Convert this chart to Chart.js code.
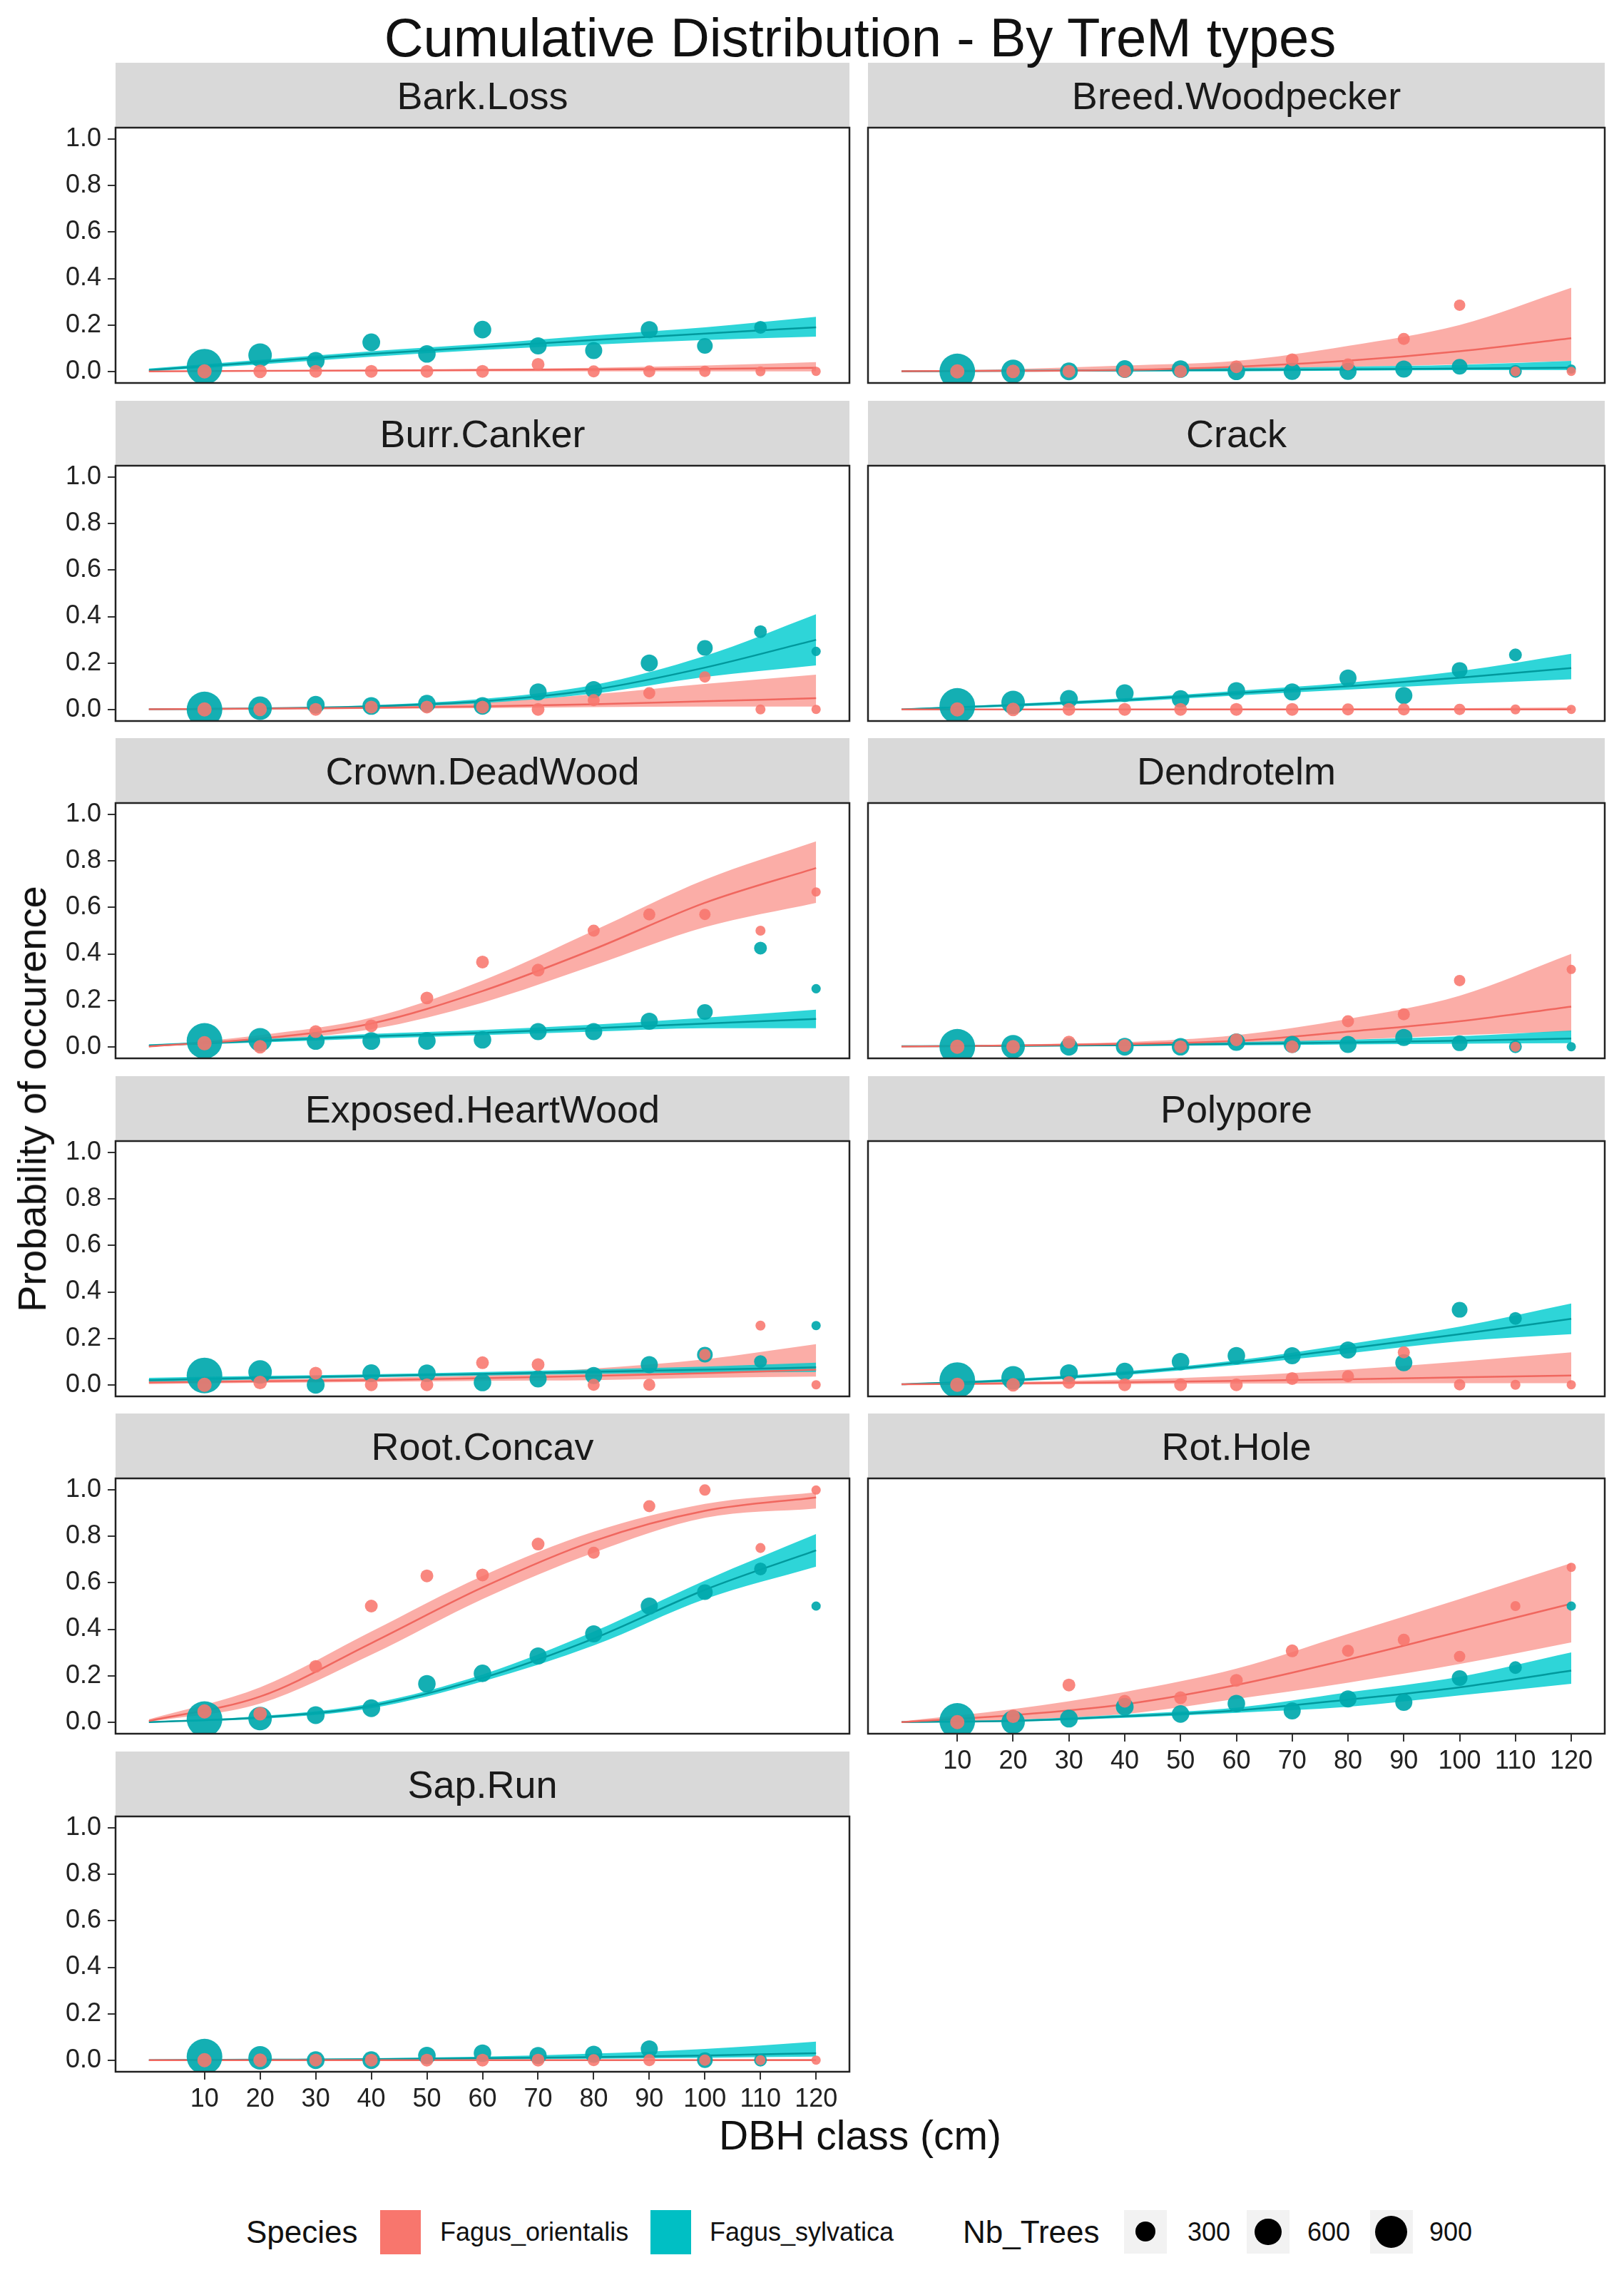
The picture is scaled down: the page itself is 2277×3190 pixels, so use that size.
<!DOCTYPE html>
<html><head><meta charset="utf-8">
<script src="https://cdn.jsdelivr.net/npm/chart.js@4.4.1/dist/chart.umd.min.js"></script>
<style>
html,body{margin:0;padding:0;background:#fff;}
#root{position:relative;width:2277px;height:3190px;overflow:hidden;font-family:"Liberation Sans",Arial,sans-serif;color:#111;}
.abs{position:absolute;white-space:nowrap;}
.strip{position:absolute;background:#d9d9d9;color:#1a1a1a;font-size:54px;display:flex;align-items:center;justify-content:center;}
.ctr{transform:translate(-50%,-50%);line-height:1;}
.vc{transform:translateY(-50%);line-height:1;}
canvas{position:absolute;}
</style>
</head><body><div id="root"></div>
<script>
// ---------------- DATA ----------------
const chartTitle = 'Cumulative Distribution - By TreM types';
const xTitle = 'DBH class (cm)';
const yTitle = 'Probability of occurence';
const speciesNames = ['Fagus_orientalis', 'Fagus_sylvatica'];
const tremTypes = ['Bark.Loss','Breed.Woodpecker','Burr.Canker','Crack','Crown.DeadWood','Dendrotelm',
                   'Exposed.HeartWood','Polypore','Root.Concav','Rot.Hole','Sap.Run'];
const dbhClasses = [10,20,30,40,50,60,70,80,90,100,110,120];
const yTickValues = [0,0.2,0.4,0.6,0.8,1.0];
const sizeLegendValues = [300,600,900];

// number of trees per DBH class (point size)
const nbTreesOrientalis = [114,95,77,77,77,77,77,60,60,44,16,3];
const nbTreesSylvatica  = [1130,447,223,220,213,213,199,199,199,155,77,3];

// observed proportions, one row per TreM type (order of tremTypes); null = not visible
const obsOrientalis = [
  [0,0,0,0,0,0,0.03,0,0,0,0,0],
  [0,0,0,0,0,0.02,0.05,0.03,0.14,0.285,0,0],
  [0,0,0,0.01,0.01,0.01,0,0.04,0.07,0.14,0,0],
  [0,0,0,0,0,0,0,0,0,0,0,0],
  [0.015,0,0.065,0.09,0.21,0.365,0.33,0.5,0.57,0.57,0.5,0.667],
  [0,0,0.02,0.005,0,0.03,0,0.11,0.14,0.285,0,0.333],
  [0,0.01,0.05,0,0,0.095,0.087,0,0,0.13,0.255,0],
  [0,0,0.01,0,0,0,0.027,0.037,0.14,0,0,0],
  [0.046,0.036,0.24,0.5,0.63,0.634,0.767,0.73,0.93,1.0,0.75,1.0],
  [0,0.025,0.16,0.09,0.105,0.18,0.307,0.307,0.355,0.283,0.5,0.667],
  [0,0,0,0,0,0,0,0,0,0,0,0]
];
const obsSylvatica = [
  [0.02,0.07,0.045,0.125,0.075,0.18,0.11,0.09,0.18,0.11,0.19,null],
  [0,0,0,0.01,0.01,0,0,0,0.01,0.02,0,0.01],
  [0,0.005,0.02,0.015,0.025,0.015,0.075,0.085,0.2,0.265,0.335,0.25],
  [0.015,0.03,0.045,0.07,0.045,0.08,0.075,0.135,0.06,0.17,0.235,null],
  [0.025,0.03,0.025,0.025,0.025,0.03,0.065,0.065,0.11,0.15,0.425,0.25],
  [0,0,0,0,0,0.02,0.01,0.01,0.04,0.015,0,0],
  [0.04,0.055,0,0.05,0.05,0.01,0.025,0.04,0.087,0.13,0.1,0.255],
  [0.02,0.03,0.05,0.057,0.1,0.125,0.125,0.15,0.095,0.323,0.286,null],
  [0.013,0.015,0.03,0.06,0.165,0.21,0.285,0.38,0.5,0.56,0.66,0.5],
  [0.005,0,0.015,0.066,0.035,0.08,0.048,0.1,0.085,0.19,0.235,0.5],
  [0.015,0.01,0,0,0.02,0.03,0.02,0.025,0.048,0,0,null]
];

// fitted curves (read at DBH 0,20,...,120): fit, lower and upper band
const fitX = [0,20,40,60,80,100,120];
const fitOrientalis = [
  [0,0.002,0.004,0.006,0.008,0.011,0.015],
  [0.001,0.002,0.006,0.02,0.046,0.087,0.143],
  [0.001,0.003,0.007,0.013,0.022,0.035,0.048],
  [0,0,0,0,0,0,0],
  [0.001,0.035,0.1,0.24,0.42,0.62,0.77],
  [0.001,0.005,0.012,0.025,0.065,0.11,0.173],
  [0.01,0.015,0.02,0.028,0.038,0.05,0.065],
  [0.002,0.006,0.011,0.017,0.024,0.032,0.04],
  [0.005,0.11,0.34,0.58,0.78,0.91,0.968],
  [0,0.03,0.077,0.16,0.27,0.39,0.51],
  [0,0,0,0,0,0,0]
];
const loOrientalis = [
  [0,0,0,0,0,0,0],
  [0,0,0.001,0.008,0.02,0.03,0.045],
  [0,0,0.002,0.005,0.01,0.012,0.012],
  [0,0,0,0,0,0,0],
  [0,0.025,0.075,0.19,0.35,0.515,0.62],
  [0,0.001,0.004,0.01,0.03,0.05,0.065],
  [0.003,0.008,0.012,0.017,0.02,0.03,0.035],
  [0,0.001,0.003,0.005,0.006,0.007,0.007],
  [0.001,0.08,0.29,0.53,0.73,0.88,0.92],
  [0,0.01,0.035,0.1,0.17,0.25,0.343],
  [0,0,0,0,0,0,0]
];
const hiOrientalis = [
  [0.002,0.004,0.006,0.01,0.015,0.025,0.04],
  [0.003,0.01,0.025,0.045,0.11,0.2,0.36],
  [0.003,0.008,0.015,0.03,0.065,0.11,0.15],
  [0.002,0.002,0.002,0.003,0.004,0.005,0.008],
  [0.003,0.05,0.125,0.285,0.5,0.72,0.885],
  [0.003,0.01,0.02,0.05,0.12,0.22,0.4],
  [0.02,0.024,0.03,0.042,0.07,0.11,0.175],
  [0.005,0.012,0.022,0.038,0.065,0.1,0.14],
  [0.012,0.15,0.39,0.63,0.82,0.94,0.99],
  [0.003,0.056,0.13,0.23,0.38,0.53,0.685],
  [0.002,0.002,0.002,0.003,0.003,0.004,0.005]
];
const fitSylvatica = [
  [0.005,0.04,0.075,0.105,0.135,0.163,0.19],
  [0,0.002,0.004,0.006,0.009,0.012,0.016],
  [0.001,0.004,0.013,0.035,0.085,0.18,0.3],
  [0,0.018,0.04,0.07,0.1,0.137,0.178],
  [0.005,0.025,0.045,0.06,0.08,0.1,0.12],
  [0.002,0.004,0.007,0.012,0.018,0.026,0.035],
  [0.02,0.03,0.038,0.047,0.056,0.065,0.075],
  [0.002,0.02,0.05,0.095,0.156,0.218,0.284],
  [0,0.02,0.07,0.19,0.36,0.57,0.74],
  [0,0.005,0.025,0.05,0.097,0.15,0.222],
  [0,0.002,0.004,0.008,0.013,0.02,0.03]
];
const loSylvatica = [
  [0,0.03,0.063,0.092,0.115,0.135,0.15],
  [0,0,0,0,0.003,0.005,0.005],
  [0,0.002,0.009,0.027,0.068,0.14,0.19],
  [0,0.012,0.033,0.06,0.085,0.11,0.13],
  [0.002,0.018,0.035,0.05,0.065,0.08,0.08],
  [0,0.001,0.003,0.006,0.01,0.013,0.015],
  [0.012,0.023,0.032,0.04,0.047,0.052,0.055],
  [0,0.014,0.042,0.085,0.135,0.187,0.218],
  [0,0.014,0.06,0.175,0.33,0.53,0.67],
  [0,0.002,0.018,0.04,0.066,0.115,0.165],
  [0,0,0.001,0.003,0.006,0.01,0.015]
];
const hiSylvatica = [
  [0.012,0.05,0.087,0.118,0.155,0.19,0.235],
  [0.004,0.006,0.01,0.015,0.02,0.028,0.045],
  [0.002,0.006,0.018,0.045,0.105,0.23,0.41],
  [0.003,0.024,0.048,0.08,0.115,0.165,0.24],
  [0.01,0.032,0.055,0.072,0.095,0.125,0.16],
  [0.005,0.008,0.012,0.02,0.03,0.045,0.07],
  [0.03,0.038,0.045,0.055,0.066,0.078,0.095],
  [0.004,0.026,0.058,0.105,0.175,0.25,0.35],
  [0.002,0.026,0.08,0.205,0.39,0.61,0.81],
  [0.003,0.01,0.033,0.062,0.128,0.195,0.3],
  [0.002,0.004,0.008,0.015,0.028,0.048,0.08]
];

// ---------------- STYLE / LAYOUT ----------------
const RED = '#F8766D', TEAL = '#00BFC4';
const RED_PT = 'rgba(248,118,109,0.88)', TEAL_PT = 'rgba(0,168,172,0.92)';
const RED_BAND = 'rgba(248,118,109,0.6)', TEAL_BAND = 'rgba(0,204,207,0.82)';
const RED_LINE = '#F0675F', TEAL_LINE = '#00999D';
const colLeft = [162, 1217], colRight = [1191, 2250];
const plotTop0 = 179, rowPitch = 473.5, plotH = 358, stripH = 91;
const FONT = '"Liberation Sans", Arial, sans-serif';
const Y_AXIS_W = 130, X_AXIS_H = 80, PAD = 6;

function treeRadius(n){ return Math.sqrt(41 + 0.517*n); }

Chart.defaults.font.family = FONT;
const root = document.getElementById('root');

function addText(txt, x, y, size, cls, extra){
  const d = document.createElement('div');
  d.className = 'abs ' + cls;
  d.style.left = x + 'px'; d.style.top = y + 'px';
  d.style.fontSize = size + 'px';
  if (extra) Object.assign(d.style, extra);
  d.textContent = txt;
  root.appendChild(d);
  return d;
}

const borderPlugin = {
  id: 'panelBorder',
  afterDraw(chart){
    const a = chart.chartArea, c = chart.ctx;
    c.save(); c.strokeStyle = '#222'; c.lineWidth = 2.5;
    c.strokeRect(a.left, a.top, a.right - a.left, a.bottom - a.top);
    c.restore();
  }
};

function pts(vals){ return dbhClasses.map((x,i)=>({x:x, y:vals[i]})); }
function crv(vals){ return fitX.map((x,i)=>({x:x, y:vals[i]})); }
function fixSize(prop, size){
  return s => { s[prop] = size; s.paddingTop = 0; s.paddingBottom = 0; s.paddingLeft = 0; s.paddingRight = 0; };
}

tremTypes.forEach((name, i) => {
  const col = i % 2, row = Math.floor(i / 2);
  const L = colLeft[col], R = colRight[col];
  const top = Math.round(plotTop0 + row * rowPitch);
  const showY = col === 0;
  const showX = (name === 'Rot.Hole' || name === 'Sap.Run');
  const padL = showY ? Y_AXIS_W : PAD, padB = showX ? X_AXIS_H : PAD;

  const strip = document.createElement('div');
  strip.className = 'strip';
  Object.assign(strip.style, {left: L+'px', top: (top - stripH)+'px', width: (R-L)+'px', height: stripH+'px'});
  strip.textContent = name;
  root.appendChild(strip);

  const cv = document.createElement('canvas');
  const W = (R - L) + padL + PAD, H = plotH + PAD + padB;
  cv.width = W; cv.height = H;
  cv.style.left = (L - padL) + 'px'; cv.style.top = (top - PAD) + 'px';
  cv.style.width = W + 'px'; cv.style.height = H + 'px';
  root.appendChild(cv);

  const lineDs = (data, color, order) => ({
    type:'scatter', data, showLine:true, borderColor:color, borderWidth:2.5,
    pointRadius:0, fill:false, cubicInterpolationMode:'monotone', order, clip:0
  });
  const bandHi = (data, color, order) => ({
    type:'scatter', data, showLine:true, borderWidth:0, borderColor:'rgba(0,0,0,0)',
    backgroundColor:color, pointRadius:0, fill:'+1', cubicInterpolationMode:'monotone', order, clip:0
  });
  const bandLo = (data, order) => ({
    type:'scatter', data, showLine:true, borderWidth:0, borderColor:'rgba(0,0,0,0)',
    pointRadius:0, fill:false, cubicInterpolationMode:'monotone', order, clip:0
  });

  const xScale = { type:'linear', min:-6, max:126, display: showX,
    afterBuildTicks: s => { s.ticks = dbhClasses.map(v=>({value:v})); },
    grid:{ display:true, drawOnChartArea:false, drawTicks:true, tickLength:11, color:'#333', lineWidth:2 },
    border:{ display:false },
    ticks:{ font:{size:36}, color:'#222', padding:6, maxRotation:0, minRotation:0, autoSkip:false,
            callback: v => String(v) } };
  if (showX) xScale.afterFit = fixSize('height', X_AXIS_H);
  const yScale = { type:'linear', min:-0.05, max:1.05, display: showY,
    afterBuildTicks: s => { s.ticks = yTickValues.map(v=>({value:v})); },
    grid:{ display:true, drawOnChartArea:false, drawTicks:true, tickLength:11, color:'#333', lineWidth:2 },
    border:{ display:false },
    ticks:{ font:{size:36}, color:'#222', padding:9, autoSkip:false,
            callback: v => Number(v).toFixed(1) } };
  if (showY) yScale.afterFit = fixSize('width', Y_AXIS_W);

  new Chart(cv, {
    type: 'scatter',
    data: { datasets: [
      { data: pts(obsOrientalis[i]), backgroundColor: RED_PT, borderWidth:0,
        pointRadius: nbTreesOrientalis.map(treeRadius), order:0, clip:0 },
      { data: pts(obsSylvatica[i]), backgroundColor: TEAL_PT, borderWidth:0,
        pointRadius: nbTreesSylvatica.map(treeRadius), order:1, clip:0 },
      lineDs(crv(fitOrientalis[i]), RED_LINE, 2),
      lineDs(crv(fitSylvatica[i]), TEAL_LINE, 3),
      bandHi(crv(hiOrientalis[i]), RED_BAND, 5),
      bandLo(crv(loOrientalis[i]), 5),
      bandHi(crv(hiSylvatica[i]), TEAL_BAND, 4),
      bandLo(crv(loSylvatica[i]), 4)
    ]},
    options: {
      responsive:false, animation:false, devicePixelRatio:1, events:[],
      layout:{ autoPadding:false, padding:{ left: showY?0:PAD, right:PAD, top:PAD, bottom: showX?0:PAD } },
      plugins:{ legend:{display:false}, tooltip:{enabled:false} },
      scales:{ x: xScale, y: yScale }
    },
    plugins:[borderPlugin]
  });
});

// titles
addText(chartTitle, 1206, 53, 76, 'ctr');
addText(xTitle, 1206, 2994, 57, 'ctr');
addText(yTitle, 45, 1541, 56, '', {transform:'translate(-50%,-50%) rotate(-90deg)', lineHeight:'1'});

// legend
const LY = 3130;
addText('Species', 345, LY, 44, 'vc');
const keyStyle = (x, color) => {
  const d = document.createElement('div');
  Object.assign(d.style, {position:'absolute', left:x+'px', top:'3099px', width:'57px', height:'62px', background:color});
  root.appendChild(d);
};
keyStyle(533, RED);
addText(speciesNames[0], 617, LY, 36, 'vc');
keyStyle(912, TEAL);
addText(speciesNames[1], 995, LY, 36, 'vc');
addText('Nb_Trees', 1350, LY, 44, 'vc');
const sizeKeyX = [1576, 1748, 1921], sizeLabelX = [1665, 1833, 2004];
sizeLegendValues.forEach((v, k) => {
  const box = document.createElement('div');
  Object.assign(box.style, {position:'absolute', left:sizeKeyX[k]+'px', top:'3099px', width:'60px', height:'61px', background:'#f2f2f2'});
  root.appendChild(box);
  const r = treeRadius(v);
  const c = document.createElement('div');
  Object.assign(c.style, {position:'absolute', left:(sizeKeyX[k]+30-r)+'px', top:(3129.5-r)+'px',
    width:(2*r)+'px', height:(2*r)+'px', borderRadius:'50%', background:'#000'});
  root.appendChild(c);
  addText(String(v), sizeLabelX[k], LY, 36, 'vc');
});
</script>
</body></html>
